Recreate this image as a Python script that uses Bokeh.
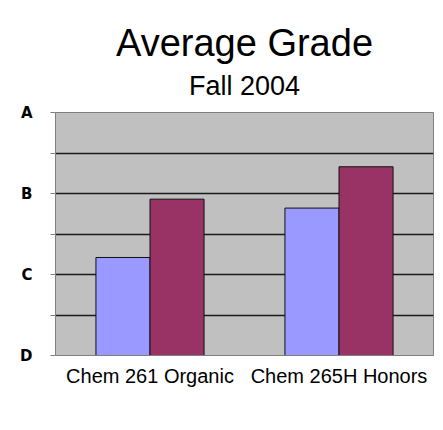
from bokeh.plotting import figure
from bokeh.models import (Range1d, FixedTicker, Legend, LegendItem, Title, ColumnDataSource)
from bokeh.transform import dodge
from bokeh.embed import file_html
from bokeh.resources import INLINE

# ---- data ----
courses = ["Chem 261 Organic", "Chem 265H Honors"]
non_prep = [2.21, 2.82]
prep = [2.93, 3.33]
series_names = ["non-prep users", "prep users"]
grade_ticks = [1, 1.5, 2, 2.5, 3, 3.5, 4]
grade_labels = {1: "D", 2: "C", 3: "B", 4: "A"}
title_text = "Average Grade"
subtitle_text = "Fall 2004"

n = len(courses)
centers = [i + 0.5 for i in range(n)]
src = ColumnDataSource(dict(pos=centers, course=courses, non_prep=non_prep, prep=prep))

p = figure(frame_width=378, frame_height=243, output_backend="svg", toolbar_location=None,
           x_range=Range1d(0, n), y_range=Range1d(grade_ticks[0], grade_ticks[-1]),
           min_border_left=55, min_border_right=10, min_border_top=112, min_border_bottom=75)

p.background_fill_color = "#c0c0c0"
p.border_fill_color = "white"
p.outline_line_color = "#808080"
p.outline_line_width = 1

bw = 0.286
r1 = p.vbar(x=dodge("pos", -bw / 2), top="non_prep", bottom=grade_ticks[0],
            width=bw, source=src, fill_color="#9999ff", line_color="#111111", line_width=1)
r2 = p.vbar(x=dodge("pos", bw / 2), top="prep", bottom=grade_ticks[0],
            width=bw, source=src, fill_color="#993366", line_color="#111111", line_width=1)

# y axis
p.yaxis.ticker = FixedTicker(ticks=grade_ticks)
p.yaxis.major_label_overrides = {t: grade_labels.get(t, "") for t in grade_ticks}
p.yaxis.major_label_text_font = "DejaVu Sans"
p.yaxis.major_label_text_font_style = "bold"
p.yaxis.major_label_text_font_size = "15px"
p.yaxis.major_label_text_color = "black"
p.yaxis.major_label_standoff = 18
p.yaxis.major_tick_out = 5
p.yaxis.major_tick_in = 0
p.yaxis.minor_tick_line_color = None
p.yaxis.axis_line_color = "#808080"
p.yaxis.major_tick_line_color = "#808080"

# grid
p.ygrid.ticker = FixedTicker(ticks=grade_ticks[1:-1])
p.ygrid.grid_line_color = "#1a1a1a"
p.ygrid.grid_line_width = 1.5
p.xgrid.grid_line_color = None

# x axis with category labels
p.xaxis.ticker = FixedTicker(ticks=centers)
p.xaxis.major_label_overrides = {c: name for c, name in zip(centers, courses)}
p.xaxis.major_label_text_font = "Liberation Sans"
p.xaxis.major_label_text_font_size = "20px"
p.xaxis.major_label_text_color = "black"
p.xaxis.major_label_standoff = 9
p.xaxis.major_tick_out = 0
p.xaxis.major_tick_in = 0
p.xaxis.major_tick_line_color = None
p.xaxis.minor_tick_line_color = None
p.xaxis.axis_line_color = "#808080"

# titles (first added is nearest the frame)
p.add_layout(Title(text=subtitle_text, align="center", text_font="Liberation Sans",
                   text_font_size="27px", text_font_style="normal", text_color="black",
                   standoff=24), "above")
p.add_layout(Title(text=title_text, align="center", text_font="Liberation Sans",
                   text_font_size="38px", text_font_style="normal", text_color="black",
                   standoff=-15), "above")

legend = Legend(items=[LegendItem(label=series_names[0], renderers=[r1]),
                       LegendItem(label=series_names[1], renderers=[r2])],
                orientation="horizontal", location="center")
legend.label_text_font = "DejaVu Sans"
legend.label_text_font_size = "17.5px"
legend.label_text_color = "black"
legend.glyph_width = 14
legend.glyph_height = 14
legend.label_height = 14
legend.label_standoff = 5
legend.spacing = 5
legend.padding = 3
legend.margin = 9
legend.border_line_color = "#808080"
legend.border_line_width = 1
legend.background_fill_color = "white"
legend.background_fill_alpha = 1
p.add_layout(legend, "below")

open("out.html", "w").write(file_html(p, INLINE))
